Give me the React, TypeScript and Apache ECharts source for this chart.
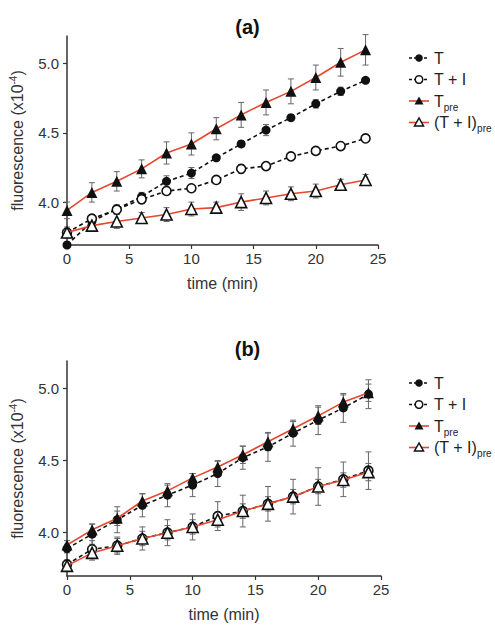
import React, { useEffect, useRef } from "react";
import * as echarts from "echarts";

const times = [0, 2, 4, 6, 8, 10, 12, 14, 16, 18, 20, 22, 24];

// Panel (a)
const aT = [3.69, 3.86, 3.95, 4.04, 4.15, 4.21, 4.32, 4.42, 4.52, 4.61, 4.71, 4.80, 4.88];
const aTI = [3.78, 3.88, 3.945, 4.02, 4.08, 4.10, 4.16, 4.24, 4.26, 4.33, 4.37, 4.405, 4.46];
const aTpre = [3.94, 4.07, 4.15, 4.24, 4.355, 4.42, 4.53, 4.63, 4.72, 4.80, 4.90, 5.01, 5.10];
const aTIpre = [3.78, 3.83, 3.86, 3.885, 3.91, 3.95, 3.96, 4.0, 4.03, 4.06, 4.08, 4.125, 4.16];
const aTErr = [0.01, 0.03, 0.03, 0.03, 0.04, 0.04, 0.02, 0.02, 0.04, 0.02, 0.03, 0.03, 0.02];
const aTIErr = [0.02, 0.03, 0.03, 0.03, 0.02, 0.02, 0.01, 0.03, 0.01, 0.01, 0.02, 0.01, 0.01];
const aTpreErr = [0.06, 0.07, 0.07, 0.065, 0.08, 0.08, 0.08, 0.09, 0.09, 0.09, 0.09, 0.1, 0.11];
const aTIpreErr = [0.04, 0.04, 0.05, 0.04, 0.05, 0.05, 0.04, 0.06, 0.05, 0.05, 0.05, 0.04, 0.04];

// Panel (b)
const bT = [3.89, 3.99, 4.09, 4.19, 4.26, 4.33, 4.41, 4.52, 4.595, 4.69, 4.78, 4.865, 4.96];
const bTI = [3.78, 3.885, 3.91, 3.96, 4.0, 4.04, 4.115, 4.15, 4.20, 4.25, 4.32, 4.37, 4.43];
const bTpre = [3.915, 4.02, 4.10, 4.22, 4.29, 4.38, 4.455, 4.54, 4.63, 4.72, 4.81, 4.905, 4.97];
const bTIpre = [3.77, 3.86, 3.91, 3.96, 4.0, 4.04, 4.09, 4.15, 4.20, 4.25, 4.32, 4.365, 4.42];
const bTErr = [0.03, 0.07, 0.09, 0.08, 0.08, 0.08, 0.09, 0.08, 0.1, 0.09, 0.1, 0.1, 0.1];
const bTIErr = [0.03, 0.06, 0.06, 0.08, 0.09, 0.09, 0.1, 0.11, 0.12, 0.12, 0.13, 0.12, 0.13];
const bTpreErr = [0.03, 0.04, 0.05, 0.05, 0.04, 0.03, 0.04, 0.06, 0.06, 0.05, 0.06, 0.05, 0.06];
const bTIpreErr = [0.02, 0.05, 0.05, 0.05, 0.05, 0.05, 0.05, 0.05, 0.05, 0.05, 0.05, 0.05, 0.06];

const yTicks = [4.0, 4.5, 5.0];
const seriesNames = ["T", "T + I", "Tpre", "(T + I)pre"];
const panelTitles = ["(a)", "(b)"];

const FONT = "Liberation Sans, Arial, Helvetica, sans-serif";
const RED = "#e5472f";
const AXIS = "#333";

export default function App() {
  const ref = useRef<HTMLDivElement>(null);
  useEffect(() => {
    if (!ref.current) return;
    const chart = echarts.init(ref.current, null, { renderer: "svg" });

    const grids = [
      { left: 66, top: 36, width: 312, height: 209 },
      { left: 66, top: 361, width: 315, height: 215 },
    ];
    const yRanges = [
      [3.69, 5.2],
      [3.70, 5.19],
    ];

    const panels = [
      { vals: [aT, aTI, aTpre, aTIpre], errs: [aTErr, aTIErr, aTpreErr, aTIpreErr] },
      { vals: [bT, bTI, bTpre, bTIpre], errs: [bTErr, bTIErr, bTpreErr, bTIpreErr] },
    ];

    const styles = [
      { color: "#111", type: [4, 3], symbol: "circle", size: 9, fill: "#111" },
      { color: "#111", type: [4, 3], symbol: "circle", size: 9, fill: "#fff" },
      { color: RED, type: "solid", symbol: "triangle", size: 11, fill: "#111" },
      { color: RED, type: "solid", symbol: "triangle", size: 11, fill: "#fff" },
    ];

    const series: any[] = [];
    panels.forEach((p, pi) => {
      p.vals.forEach((vals, si) => {
        const errs = p.errs[si];
        series.push({
          type: "custom",
          xAxisIndex: pi,
          yAxisIndex: pi,
          clip: false,
          z: 1,
          data: times.map((t, i) => [t, vals[i], errs[i]]),
          encode: { x: 0, y: 1 },
          renderItem: (params: any, api: any) => {
            const x = api.value(0);
            const y = api.value(1);
            const e = api.value(2);
            const top = api.coord([x, y + e]);
            const bot = api.coord([x, y - e]);
            const st = { stroke: "#666", lineWidth: 1 };
            return {
              type: "group",
              children: [
                { type: "line", shape: { x1: top[0], y1: top[1], x2: bot[0], y2: bot[1] }, style: st },
                { type: "line", shape: { x1: top[0] - 3, y1: top[1], x2: top[0] + 3, y2: top[1] }, style: st },
                { type: "line", shape: { x1: bot[0] - 3, y1: bot[1], x2: bot[0] + 3, y2: bot[1] }, style: st },
              ],
            };
          },
        });
      });
      p.vals.forEach((vals, si) => {
        const s = styles[si];
        series.push({
          type: "line",
          name: seriesNames[si],
          xAxisIndex: pi,
          yAxisIndex: pi,
          z: 3 + si,
          data: times.map((t, i) => [t, vals[i]]),
          symbol: s.symbol,
          symbolSize: s.size,
          showAllSymbol: true,
          lineStyle: { color: s.color, width: 1.6, type: s.type },
          itemStyle: { color: s.fill, borderColor: "#111", borderWidth: s.fill === "#fff" ? 1.6 : 0 },
          emphasis: { disabled: true },
        });
      });
    });

    const xAxes = grids.map((_, gi) => ({
      gridIndex: gi,
      type: "value",
      min: 0,
      max: 25,
      interval: 5,
      axisLine: { show: true, lineStyle: { color: AXIS, width: 1.5 } },
      axisTick: { show: true, length: 4, lineStyle: { color: AXIS, width: 1.2 } },
      axisLabel: { fontSize: 15, color: AXIS, fontFamily: FONT, margin: 6 },
      splitLine: { show: false },
      name: "time (min)",
      nameLocation: "middle",
      nameGap: 30,
      nameTextStyle: { fontSize: 16, color: AXIS, fontFamily: FONT },
    }));

    const yAxes = grids.map((_, gi) => ({
      gridIndex: gi,
      type: "value",
      min: yRanges[gi][0],
      max: yRanges[gi][1],
      axisLine: { show: true, lineStyle: { color: AXIS, width: 1.5 } },
      axisTick: { show: true, length: 4, customValues: yTicks, lineStyle: { color: AXIS, width: 1.2 } },
      axisLabel: {
        customValues: yTicks,
        formatter: (v: number) => v.toFixed(1),
        fontSize: 15,
        color: AXIS,
        fontFamily: FONT,
        margin: 8,
      },
      splitLine: { show: false },
      name: "{a|fluorescence (x10}{s|-4}{a|)}",
      nameLocation: "middle",
      nameGap: 40,
      nameRotate: 90,
      nameTextStyle: {
        rich: {
          a: { fontSize: 16, color: AXIS, fontFamily: FONT },
          s: { fontSize: 10, color: AXIS, fontFamily: FONT, padding: [0, 0, 9, 0] },
        },
      },
    }));

    const legendGraphics: any[] = [];
    const legendTops = [58, 383];
    legendTops.forEach((top0) => {
      seriesNames.forEach((nm, si) => {
        const s = styles[si];
        const cy = top0 + si * 21.5;
        const dash = s.type === "solid" ? null : [3, 2];
        legendGraphics.push({
          type: "line",
          shape: { x1: 409, y1: cy, x2: 429, y2: cy },
          style: { stroke: s.color, lineWidth: 1.6, lineDash: dash },
        });
        if (s.symbol === "circle") {
          legendGraphics.push({
            type: "circle",
            shape: { cx: 419, cy, r: 3.8 },
            style: { fill: s.fill, stroke: "#111", lineWidth: s.fill === "#fff" ? 1.5 : 0 },
          });
        } else {
          legendGraphics.push({
            type: "polygon",
            shape: { points: [[419, cy - 4.5], [414.5, cy + 3.5], [423.5, cy + 3.5]] },
            style: { fill: s.fill, stroke: "#111", lineWidth: s.fill === "#fff" ? 1.5 : 0 },
          });
        }
        let txt = "{m|" + nm + "}";
        if (nm.endsWith("pre")) txt = "{m|" + nm.slice(0, -3) + "}{s|pre}";
        legendGraphics.push({
          type: "text",
          x: 434,
          y: cy,
          style: {
            text: txt,
            verticalAlign: "middle",
            rich: {
              m: { fontSize: 16, fill: "#222", fontFamily: FONT },
              s: { fontSize: 10, fill: "#222", fontFamily: FONT, padding: [12, 0, 0, 0] },
            },
          },
        });
      });
    });

    chart.setOption({
      animation: false,
      backgroundColor: "#fff",
      title: [
        { text: panelTitles[0], left: "center", top: 12, textStyle: { fontSize: 20, fontWeight: "bold", color: "#111", fontFamily: FONT } },
        { text: panelTitles[1], left: "center", top: 334, textStyle: { fontSize: 20, fontWeight: "bold", color: "#111", fontFamily: FONT } },
      ],
      grid: grids,
      xAxis: xAxes,
      yAxis: yAxes,
      series,
      graphic: legendGraphics,
    });
    return () => chart.dispose();
  }, []);
  return <div ref={ref} style={{ position: "fixed", left: 0, top: 0, width: 495, height: 631 }} />;
}
